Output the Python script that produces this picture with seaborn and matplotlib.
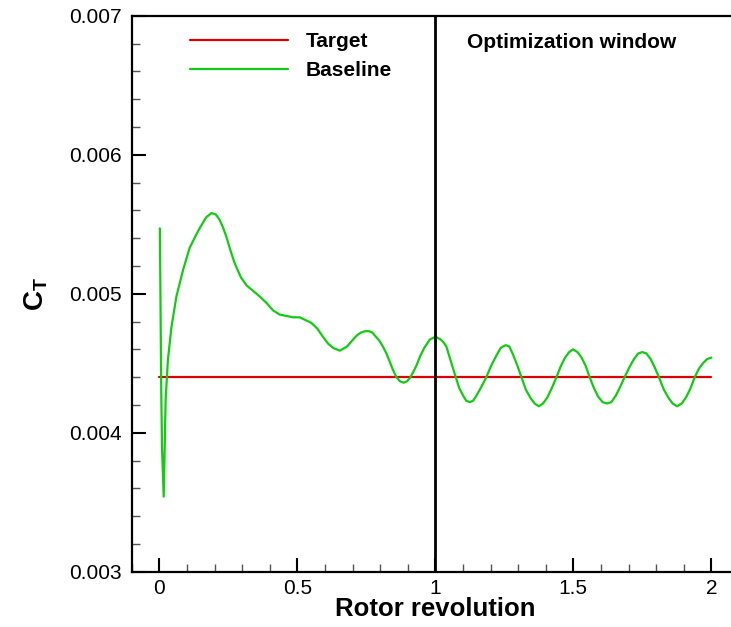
import matplotlib
matplotlib.use("Agg")
import matplotlib.pyplot as plt
import seaborn as sns
import pandas as pd
from matplotlib.ticker import MultipleLocator, FormatStrFormatter, FuncFormatter

# ---- data ----
baseline_x = [0.002, 0.004, 0.007, 0.010, 0.016, 0.023, 0.031, 0.044, 0.062, 0.086,
              0.110, 0.130, 0.146, 0.170, 0.189, 0.205, 0.219, 0.230, 0.243, 0.258,
              0.273, 0.295, 0.316, 0.340, 0.364, 0.390, 0.412, 0.436, 0.460, 0.485,
              0.509, 0.530, 0.551, 0.572, 0.593, 0.612, 0.630, 0.654, 0.680, 0.702,
              0.716, 0.730, 0.745, 0.760, 0.772, 0.785, 0.798, 0.810, 0.823, 0.835,
              0.847, 0.859, 0.872, 0.885, 0.898, 0.910, 0.921, 0.931, 0.945, 0.960,
              0.980, 1.001, 1.020, 1.030, 1.040, 1.057, 1.074, 1.087, 1.100, 1.112,
              1.125, 1.137, 1.150, 1.167, 1.185, 1.202, 1.220, 1.237, 1.255, 1.268,
              1.280, 1.296, 1.312, 1.328, 1.345, 1.360, 1.375, 1.390, 1.405, 1.422,
              1.439, 1.455, 1.470, 1.485, 1.499, 1.515, 1.530, 1.545, 1.559, 1.575,
              1.590, 1.606, 1.622, 1.638, 1.655, 1.670, 1.686, 1.703, 1.720, 1.735,
              1.750, 1.765, 1.780, 1.795, 1.810, 1.828, 1.845, 1.860, 1.876, 1.893,
              1.910, 1.925, 1.940, 1.955, 1.970, 1.985, 2.000]
baseline_y = [0.00547, 0.00503, 0.00431, 0.00388, 0.00354, 0.00424, 0.00452, 0.00476, 0.00498, 0.00517,
              0.00533, 0.00541, 0.00547, 0.00555, 0.00558, 0.00557, 0.00553, 0.00548, 0.00541, 0.00531,
              0.00522, 0.00512, 0.00506, 0.00502, 0.00498, 0.00493, 0.00488, 0.00485, 0.00484, 0.00483,
              0.00483, 0.00481, 0.00479, 0.00475, 0.00469, 0.00464, 0.00461, 0.00459, 0.00462, 0.00467,
              0.00470, 0.00472, 0.00473, 0.00473, 0.00472, 0.00469, 0.00466, 0.00462, 0.00457, 0.00451,
              0.00445, 0.00440, 0.00437, 0.00436, 0.00437, 0.00440, 0.00444, 0.00448, 0.00455, 0.00461,
              0.00467, 0.00469, 0.00467, 0.00465, 0.00462, 0.00451, 0.00440, 0.00432, 0.00427, 0.00423,
              0.00422, 0.00423, 0.00427, 0.00433, 0.00440, 0.00448, 0.00455, 0.00461, 0.00463, 0.00462,
              0.00457, 0.00449, 0.00440, 0.00431, 0.00425, 0.00421, 0.00419, 0.00421, 0.00425, 0.00432,
              0.00440, 0.00448, 0.00454, 0.00458, 0.00460, 0.00458, 0.00454, 0.00448, 0.00440, 0.00432,
              0.00426, 0.00422, 0.00421, 0.00422, 0.00427, 0.00433, 0.00440, 0.00447, 0.00453, 0.00457,
              0.00458, 0.00457, 0.00453, 0.00447, 0.00440, 0.00431, 0.00425, 0.00421, 0.00419, 0.00421,
              0.00426, 0.00432, 0.00440, 0.00446, 0.00450, 0.00453, 0.00454]
target_x = [0.0, 2.0]
target_y = [0.0044, 0.0044]
window_start = 1.0
x_ticks = [0, 0.5, 1, 1.5, 2]
y_ticks = [0.003, 0.004, 0.005, 0.006, 0.007]

sns.set_theme(style="white")
plt.rcParams['font.family'] = ['Liberation Sans', 'DejaVu Sans']
plt.rcParams['mathtext.fontset'] = 'custom'
plt.rcParams['mathtext.rm'] = 'Liberation Sans'
plt.rcParams['mathtext.bf'] = 'Liberation Sans:bold'
plt.rcParams['mathtext.it'] = 'Liberation Sans:italic'
for k in ['text.color', 'axes.labelcolor', 'xtick.color', 'ytick.color']:
    plt.rcParams[k] = 'black'

fig = plt.figure(figsize=(7.31, 6.27), dpi=100)
ax = fig.add_axes([131.7 / 731, (627 - 571.7) / 627, 607.2 / 731, 556.0 / 627])

red = '#dd0000'
green = '#11cc11'

df_t = pd.DataFrame({'x': target_x, 'y': target_y})
df_b = pd.DataFrame({'x': baseline_x, 'y': baseline_y})
sns.lineplot(data=df_t, x='x', y='y', ax=ax, color=red, lw=1.6, label='Target', sort=False)
sns.lineplot(data=df_b, x='x', y='y', ax=ax, color=green, lw=1.6, label='Baseline', sort=False)
ax.axvline(window_start, color='black', lw=2.0)

ax.set_xlim(-0.1, 2.1)
ax.set_ylim(0.003, 0.007)
ax.set_xticks(x_ticks)
ax.set_yticks(y_ticks)
ax.xaxis.set_minor_locator(MultipleLocator(0.1))
ax.yaxis.set_minor_locator(MultipleLocator(0.0002))
ax.yaxis.set_major_formatter(FormatStrFormatter('%.3f'))
ax.xaxis.set_major_formatter(FuncFormatter(lambda v, p: f'{v:g}'))

ax.tick_params(which='major', direction='in', length=10, width=1.5, labelsize=15,
               colors='black', bottom=True, left=True, top=False, right=False)
ax.tick_params(axis='x', which='major', pad=5.5)
ax.tick_params(axis='y', which='major', pad=7)
ax.tick_params(which='minor', direction='in', length=6, width=1.0, color='#555555',
               bottom=True, left=True, top=False, right=False)

for s in ax.spines.values():
    s.set_color('black')
    s.set_linewidth(1.6)

ax.set_xlabel('Rotor revolution', fontsize=18.5, fontweight='bold', labelpad=-1)
ax.set_ylabel(r'$\mathbf{C}_\mathbf{T}$', fontsize=20, labelpad=14)

ax.text(1.114, 0.00681, 'Optimization window', fontsize=15, fontweight='bold',
        va='center', ha='left')

leg = ax.legend(loc='upper left', bbox_to_anchor=((190 - 131.7) / 607.2, 0.971),
                frameon=False, borderpad=0, borderaxespad=0, handlelength=4.7,
                handletextpad=0.85, labelspacing=0.5,
                prop={'size': 15, 'weight': 'bold'})

fig.savefig('out.png', dpi=100)
